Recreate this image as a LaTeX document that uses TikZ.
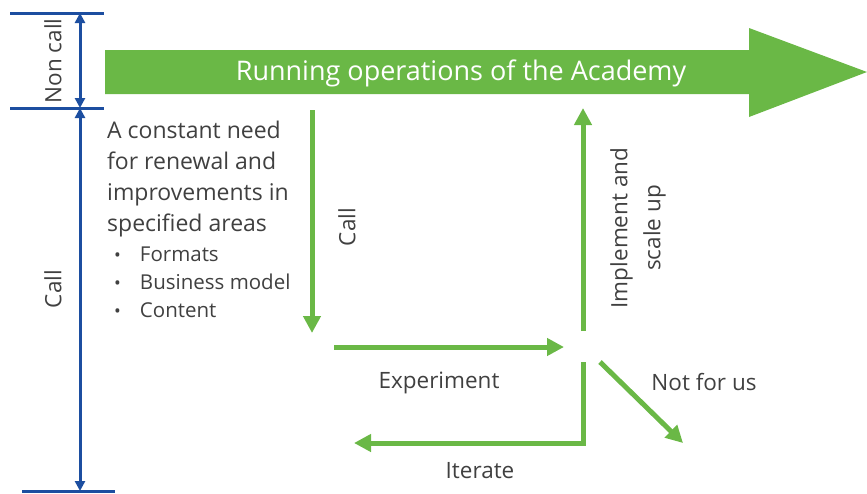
\documentclass[tikz,border=0pt]{standalone}
\usepackage{fontspec}
\setmainfont{Open Sans}
\usetikzlibrary{arrows.meta}
\definecolor{grn}{RGB}{106,184,70}
\definecolor{blu}{RGB}{28,78,160}
\definecolor{txt}{RGB}{64,64,64}
\newcommand{\mybul}{\raisebox{0.5pt}{\fontsize{18}{18}\selectfont\textbullet}\hspace{19pt}}
\begin{document}
\begin{tikzpicture}[x=1pt,y=-1pt,
  garrow/.style={draw=grn,line width=5pt,-{Triangle[length=17pt,width=17pt]}},
  barrow/.style={draw=blu,line width=3pt,{Triangle[length=10pt,width=10pt]}-{Triangle[length=10pt,width=10pt]}},
  bline/.style={draw=blu,line width=3pt},
  lbl/.style={text=txt,font=\fontsize{22.5}{33}\selectfont,inner sep=0pt},
]
\useasboundingbox (0,0) rectangle (867,493);
% big arrow
\fill[grn] (105,50) -- (749,50) -- (749,28) -- (867,72) -- (749,117) -- (749,94) -- (105,94) -- cycle;
\node[text=white,font=\fontsize{27}{30}\selectfont,inner sep=0pt] (title) at (461,73) {Running operations of the Academy};
% blue scale
\coordinate (t1) at (10,13); \coordinate (t2) at (104,13);
\coordinate (m1) at (10,108); \coordinate (m2) at (104,108);
\coordinate (b1) at (22,491); \coordinate (b2) at (115,491);
\draw[bline] (t1) -- (t2);
\draw[bline] (m1) -- (m2);
\draw[bline] (b1) -- (b2);
\coordinate (at) at (80,13); \coordinate (am) at (80,108); \coordinate (ab) at (80,491);
\draw[barrow] (at) -- (am);
\draw[barrow] (am) -- (ab);
\node[lbl,rotate=90] (noncall) at (53,61) {Non call};
\node[lbl,rotate=90] (callL) at (53,289) {Call};
% left text
\node[text=txt,font=\fontsize{23}{31}\selectfont,inner sep=0pt,anchor=north west,align=left] (need) at (107,121) {A constant need\\for renewal and\\improvements in\\specified areas};
\node[text=txt,font=\fontsize{20.5}{28}\selectfont,inner sep=0pt,anchor=north west,align=left] (bul) at (114,247) {\mybul Formats\\\mybul Business model\\\mybul Content};
% green flow
\coordinate (c1) at (312,110); \coordinate (c2) at (312,333);
\draw[garrow] (c1) -- (c2);
\coordinate (e1) at (334,347); \coordinate (e2) at (564,347);
\draw[garrow] (e1) -- (e2);
\coordinate (u1) at (583,331); \coordinate (u2) at (583,108);
\draw[garrow] (u1) -- (u2);
\coordinate (i1) at (583,362); \coordinate (i2) at (583,443); \coordinate (i3) at (354,443);
\draw[garrow] (i1) -- (i2) -- (i3);
\coordinate (n1) at (600,362); \coordinate (n2) at (683,443);
\draw[garrow] (n1) -- (n2);
% labels
\node[lbl,rotate=90] (call) at (347,227) {Call};
\node[lbl,rotate=90,align=center] (impl) at (638,228) {Implement and\\scale up};
\node[lbl] (exp) at (439,383) {Experiment};
\node[lbl] (nfu) at (704,382) {Not for us};
\node[lbl] (it) at (480,471) {Iterate};
\end{tikzpicture}
\end{document}
